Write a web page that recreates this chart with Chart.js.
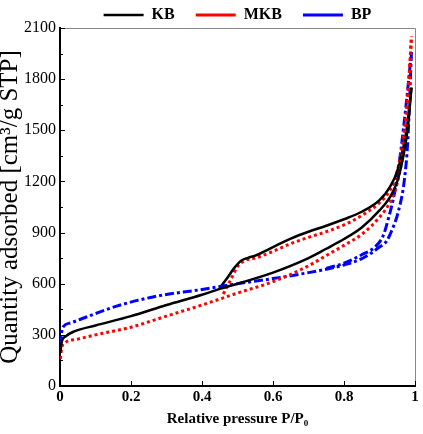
<!DOCTYPE html>
<html>
<head>
<meta charset="utf-8">
<script src="https://cdn.jsdelivr.net/npm/chart.js@4.4.0/dist/chart.umd.min.js"></script>
<style>
  html, body { margin: 0; padding: 0; background: #fff; }
  #wrap { width: 423px; height: 434px; }
</style>
</head>
<body>
<div id="wrap"><canvas id="myChart"></canvas></div>
<script>
// ---- data ----
const seriesNames = ['KB', 'MKB', 'BP'];
const xTicks = [0, 0.2, 0.4, 0.6, 0.8, 1];
const yTicks = [0, 300, 600, 900, 1200, 1500, 1800, 2100];

// KB adsorption / desorption
const kbAdsP = [0.001, 0.005, 0.015, 0.04, 0.1, 0.2, 0.3, 0.4, 0.45, 0.5, 0.6, 0.7, 0.75, 0.8, 0.85, 0.9, 0.93, 0.95, 0.97, 0.98, 0.99];
const kbAdsQ = [195, 260, 290, 320, 355, 410, 475, 535, 570, 600, 665, 750, 805, 862, 930, 1030, 1110, 1200, 1380, 1520, 1750];
const kbDesP = [0.45, 0.47, 0.49, 0.51, 0.53, 0.55, 0.6, 0.65, 0.7, 0.75, 0.8, 0.85, 0.9, 0.93, 0.95, 0.97, 0.98, 0.99];
const kbDesQ = [575, 630, 690, 735, 752, 765, 815, 865, 905, 940, 978, 1022, 1090, 1170, 1260, 1430, 1560, 1750];

// MKB adsorption / desorption
const mkbAdsP = [0.001, 0.005, 0.015, 0.05, 0.1, 0.2, 0.3, 0.4, 0.45, 0.5, 0.6, 0.7, 0.75, 0.8, 0.85, 0.9, 0.93, 0.95, 0.97, 0.98, 0.99];
const mkbAdsQ = [160, 225, 255, 275, 300, 345, 410, 475, 510, 545, 612, 705, 765, 825, 890, 990, 1080, 1190, 1420, 1620, 2050];
const mkbDesP = [0.46, 0.48, 0.5, 0.52, 0.55, 0.6, 0.65, 0.7, 0.75, 0.8, 0.85, 0.9, 0.93, 0.95, 0.97, 0.98, 0.99];
const mkbDesQ = [540, 620, 700, 735, 750, 790, 835, 872, 905, 945, 1000, 1075, 1150, 1260, 1500, 1720, 2050];

// BP adsorption / desorption
const bpAdsP = [0.001, 0.005, 0.01, 0.03, 0.056, 0.1, 0.17, 0.28, 0.39, 0.5, 0.6, 0.7, 0.75, 0.8, 0.854, 0.9, 0.92, 0.94, 0.952, 0.97, 0.98, 0.99];
const bpAdsQ = [240, 320, 350, 370, 390, 425, 475, 530, 563, 600, 630, 665, 685, 710, 751, 815, 850, 940, 1015, 1208, 1450, 1960];
const bpDesP = [0.75, 0.8, 0.85, 0.887, 0.91, 0.924, 0.944, 0.96, 0.975, 0.99];
const bpDesQ = [690, 720, 770, 815, 880, 974, 1150, 1380, 1650, 1960];

const pts = (p, q) => p.map((x, i) => ({ x: x, y: q[i] }));

const serif = 'Liberation Serif, Times New Roman, serif';
const colors = ['#000000', '#ff0000', '#0000ff'];
const dashes = [[], [3, 3], [9, 3, 3, 3]];
const widths = [2.5, 3, 3];

const branches = [
  [pts(kbAdsP, kbAdsQ), pts(mkbAdsP, mkbAdsQ), pts(bpAdsP, bpAdsQ)],
  [pts(kbDesP, kbDesQ), pts(mkbDesP, mkbDesQ), pts(bpDesP, bpDesQ)]
];

const datasets = [];
branches.forEach((branch, b) => {
  branch.forEach((data, i) => {
    datasets.push({
      label: seriesNames[i],
      data: data,
      borderColor: colors[i],
      backgroundColor: colors[i],
      borderWidth: widths[i],
      borderDash: dashes[i],
      pointRadius: 0,
      cubicInterpolationMode: 'monotone',
      fill: false,
      desorption: b === 1
    });
  });
});

// inward tick marks + grey top/right frame
const frameTicks = {
  id: 'frameTicks',
  afterDatasetsDraw(chart) {
    const { ctx, chartArea: a, scales } = chart;
    ctx.save();
    ctx.strokeStyle = '#888';
    ctx.lineWidth = 1;
    ctx.beginPath();
    ctx.moveTo(a.left, a.top + 0.5);
    ctx.lineTo(a.right + 0.5, a.top + 0.5);
    ctx.lineTo(a.right + 0.5, a.bottom);
    ctx.stroke();

    ctx.strokeStyle = '#000';
    ctx.lineWidth = 1;
    ctx.beginPath();
    for (let v = 0; v <= 2100; v += 150) {
      const y = Math.round(scales.y.getPixelForValue(v)) + 0.5;
      const len = v % 300 === 0 ? 5 : 3;
      ctx.moveTo(a.left, y);
      ctx.lineTo(a.left + len, y);
    }
    xTicks.forEach(v => {
      const x = Math.round(scales.x.getPixelForValue(v)) + 0.5;
      ctx.moveTo(x, a.bottom);
      ctx.lineTo(x, a.bottom - 5);
    });
    ctx.stroke();
    ctx.restore();
  }
};

const ctx = document.getElementById('myChart').getContext('2d');
new Chart(ctx, {
  type: 'line',
  data: { datasets: datasets },
  options: {
    responsive: true,
    maintainAspectRatio: false,
    animation: false,
    layout: { padding: { top: -14, right: 8, left: 0, bottom: 0 } },
    plugins: {
      tooltip: { enabled: false },
      legend: {
        position: 'top',
        fullSize: false,
        maxHeight: 42,
        labels: {
          filter: item => !datasets[item.datasetIndex].desorption,
          usePointStyle: true,
          pointStyle: 'line',
          pointStyleWidth: 40,
          padding: 21,
          color: '#000',
          font: { family: serif, size: 16, weight: 'bold' }
        }
      }
    },
    scales: {
      x: {
        type: 'linear',
        min: 0,
        max: 1,
        afterBuildTicks: s => { s.ticks = xTicks.map(v => ({ value: v })); },
        afterFit: s => { s.height = 48; },
        ticks: {
          color: '#000',
          padding: 2,
          font: { family: serif, size: 15, weight: 'bold' },
          callback: v => String(v)
        },
        grid: { display: false, drawTicks: false },
        border: { color: '#000', width: 2 },
        title: {
          display: true,
          text: 'Relative pressure P/P\u2080',
          color: '#000',
          padding: { top: 0, bottom: 6 },
          font: { family: serif, size: 15, weight: 'bold' }
        }
      },
      y: {
        type: 'linear',
        min: 0,
        max: 2100,
        afterBuildTicks: s => { s.ticks = yTicks.map(v => ({ value: v })); },
        afterFit: s => { s.width = 60; },
        ticks: {
          color: '#000',
          padding: 4,
          font: { family: serif, size: 16 },
          callback: v => String(v)
        },
        grid: { display: false, drawTicks: false },
        border: { color: '#000', width: 2 },
        title: {
          display: true,
          text: 'Quantity adsorbed [cm\u00b3/g STP]',
          color: '#000',
          padding: 0,
          font: { family: serif, size: 25, lineHeight: 0.85 }
        }
      }
    }
  },
  plugins: [frameTicks]
});
</script>
</body>
</html>
